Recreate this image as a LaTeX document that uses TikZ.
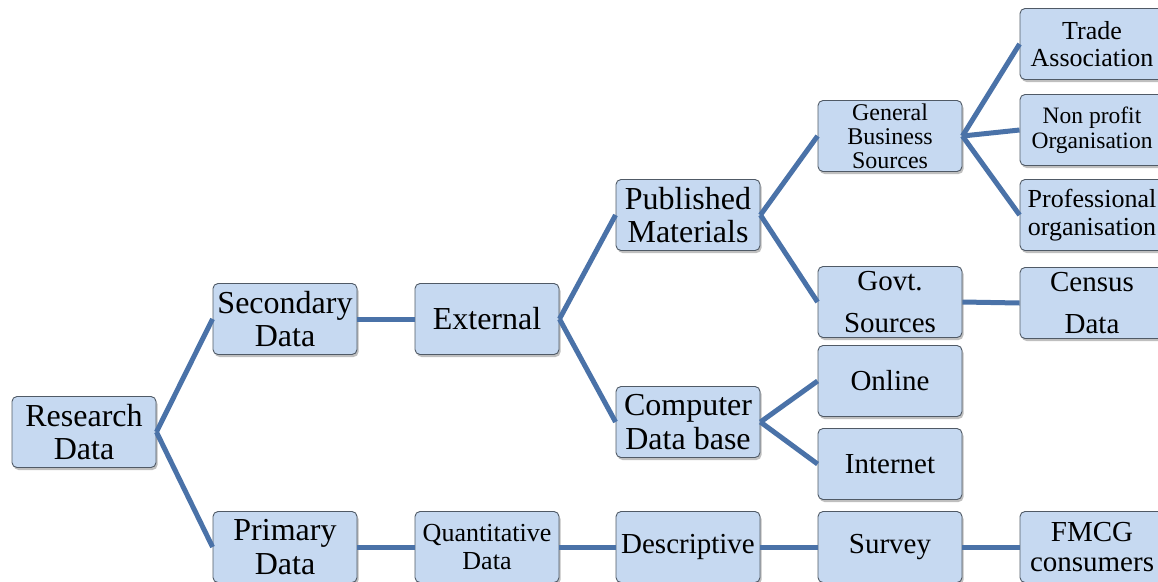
\documentclass[tikz,border=0pt]{standalone}
\usepackage{fontspec}
\setmainfont{Liberation Serif}
\usetikzlibrary{shadows}
\definecolor{boxfill}{HTML}{C6D9F1}
\definecolor{boxline}{HTML}{505A66}
\definecolor{link}{HTML}{4A72A8}
\newcommand{\fs}[1]{\fontsize{#1}{1.05\dimexpr#1pt\relax}\selectfont}
\tikzset{
  box/.style={draw=boxline, line width=0.9pt, fill=boxfill, rounded corners=5pt,
    minimum width=144pt, minimum height=71pt, inner sep=0pt, align=center,
    drop shadow={shadow xshift=1.5pt, shadow yshift=-2.5pt, opacity=0.25, fill=black}},
  big/.style={box, font=\fs{32}},
  mid/.style={box, font=\fs{29}},
  sml/.style={box, font=\fs{26}},
  tiny/.style={box, font=\fontsize{24}{24}\selectfont},
  wide/.style={box, font=\fontsize{29}{42}\selectfont},
  link/.style={draw=link, line width=5pt}
}
\begin{document}
\begin{tikzpicture}[x=1pt, y=-1pt]
\useasboundingbox (0,0) rectangle (1158,581);
% first and second levels
\node[big] (research) at (84,432) {Research\\Data};
\node[big] (secondary) at (285,319) {Secondary\\Data};
\node[big] (primary) at (285,547) {Primary\\Data};
\node[big] (external) at (487,319) {External};
\node[sml] (quant) at (487,547) {Quantitative\\Data};
% published and computer sources
\node[big] (published) at (688,215) {Published\\Materials};
\node[big] (computer) at (688,422) {Computer\\Data base};
\node[mid] (descriptive) at (688,547) {Descriptive};
\node[tiny] (general) at (890,136) {General\\Business\\Sources};
\node[wide] (govt) at (890,302) {Govt.\\Sources};
\node[mid] (online) at (890,381) {Online};
\node[mid] (internet) at (890,464) {Internet};
\node[mid] (survey) at (890,547) {Survey};
% rightmost column
\node[sml] (trade) at (1092,44) {Trade\\Association};
\node[box, font=\fontsize{23.5}{25}\selectfont] (nonprofit) at (1092,130) {Non profit\\Organisation};
\node[sml] (professional) at (1092,215) {Professional\\organisation};
\node[wide] (census) at (1092,303) {Census\\Data};
\node[mid] (fmcg) at (1092,547) {FMCG\\consumers};
% connectors
\path[link] (research.east) -- (secondary.west);
\path[link] (research.east) -- (primary.west);
\path[link] (secondary.east) -- (external.west);
\path[link] (primary.east) -- (quant.west);
\path[link] (quant.east) -- (descriptive.west);
\path[link] (external.east) -- (published.west);
\path[link] (external.east) -- (computer.west);
\path[link] (published.east) -- (general.west);
\path[link] (published.east) -- (govt.west);
\path[link] (computer.east) -- (online.west);
\path[link] (computer.east) -- (internet.west);
\path[link] (descriptive.east) -- (survey.west);
\path[link] (general.east) -- (trade.west);
\path[link] (general.east) -- (nonprofit.west);
\path[link] (general.east) -- (professional.west);
\path[link] (govt.east) -- (census.west);
\path[link] (survey.east) -- (fmcg.west);
\end{tikzpicture}
\end{document}
